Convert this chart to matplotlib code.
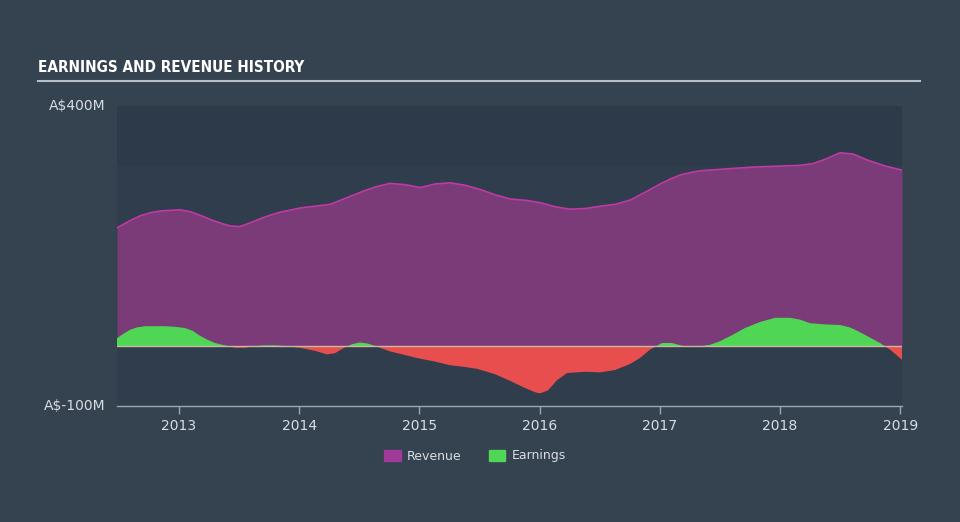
import matplotlib
matplotlib.use("Agg")
import matplotlib.pyplot as plt
from matplotlib.patches import Patch
import numpy as np

# pixel x positions, converted to decimal years below
rev_x = [117, 130, 140, 150, 160, 170, 180, 190, 200, 210, 220, 230, 240, 250, 260, 270, 280,
         300, 330, 360, 375, 390, 405, 420, 435, 450, 465, 480, 495, 510, 525, 540, 555, 570,
         585, 600, 615, 630, 645, 660, 670, 680, 690, 700, 750, 800, 813, 825, 840, 853, 867,
         885, 902]
revenue = [197, 209, 217, 222, 225, 226, 227, 224, 218, 211, 205, 200, 199, 205, 212, 218, 223,
           230, 236, 256, 265, 271, 269, 264, 270, 272, 268, 261, 252, 245, 243, 239, 232, 228,
           229, 233, 236, 243, 256, 270, 278, 285, 289, 292, 298, 301, 304, 311, 322, 320, 310,
           300, 293]

earn_x = [117, 124, 130, 137, 145, 155, 165, 175, 185, 193, 200, 208, 215, 225, 235, 245, 255,
          265, 275, 285, 300, 315, 327, 335, 343, 352, 360, 368, 377, 390, 405, 417, 435, 450,
          465, 477, 495, 510, 525, 535, 540, 548, 557, 567, 585, 600, 615, 630, 640, 650, 662,
          672, 683, 695, 710, 720, 732, 745, 760, 775, 790, 800, 810, 825, 840, 850, 860, 870,
          880, 890, 902]
earnings = [13, 21, 27, 31, 33, 33, 33, 32, 30, 25, 17, 10, 5, 1, -3, -3, 0,
            1, 1, 0, -3, -8, -14, -12, -4, 3, 6, 4, -1, -9, -15, -20, -26, -32,
            -35, -38, -47, -58, -70, -77, -79, -74, -57, -45, -43, -44, -40, -30, -20, -6, 5,
            5, 0, -2, 2, 8, 18, 30, 40, 47, 47, 44, 38, 36, 35, 31, 23, 14,
            5, -6, -23]

year_ticks = [2013, 2014, 2015, 2016, 2017, 2018, 2019]
y_labels = {400: "A$400M", -100: "A$-100M"}


def to_year(px):
    return 2013 + (np.asarray(px, dtype=float) - 179) / 120.2


BG = "#35424f"
PLOT_BG = "#303d4c"
BAND = "#2d3a49"
REV_FILL = "#7b3a78"
REV_LINE = "#c03aa6"
GREEN = "#4fd654"
RED = "#e84e4e"
TXT = "#d8dde3"

fig = plt.figure(figsize=(9.6, 5.22), dpi=100, facecolor=BG)
ax = fig.add_axes([117 / 960, 1 - 406 / 522, 785 / 960, 300 / 522])
ax.set_facecolor(PLOT_BG)

rx = to_year(rev_x)
ex = to_year(earn_x)
xmin, xmax = to_year(117), to_year(902)

# dense grid only so positive / negative earnings split cleanly at zero
xs = np.linspace(xmin, xmax, 1200)
rv = np.interp(xs, rx, revenue)
ev = np.interp(xs, ex, earnings)

ax.axhspan(300, 400, color=BAND, zorder=0, lw=0)
ax.fill_between(xs, 0, rv, color=REV_FILL, lw=0, zorder=1)
ax.plot(xs, rv, color=REV_LINE, lw=1.2, zorder=2)
ax.fill_between(xs, 0, ev, where=ev >= 0, interpolate=True, color=GREEN, lw=0, zorder=3)
ax.fill_between(xs, 0, ev, where=ev <= 0, interpolate=True, color=RED, lw=0, zorder=3)
ax.axhline(0, color="#c9b9a0", lw=1, zorder=4)

ax.set_xlim(xmin, xmax)
ax.set_ylim(-100, 400)
for s in ["top", "right", "left"]:
    ax.spines[s].set_visible(False)
ax.spines["bottom"].set_color("#9aa6b4")
ax.spines["bottom"].set_linewidth(1)
ax.set_yticks([])
ax.set_xticks(year_ticks)
ax.set_xticklabels([str(y) for y in year_ticks])
ax.tick_params(axis="x", colors="#9aa6b4", labelcolor=TXT, length=6, width=1, labelsize=10, pad=3)

for val, lab in y_labels.items():
    ax.text(-0.015, val, lab, transform=ax.get_yaxis_transform(), ha="right", va="center",
            color=TXT, fontsize=10)

fig.text(38 / 960, 1 - 68 / 522, "EARNINGS AND REVENUE HISTORY", color="white",
         fontsize=11, fontweight="bold", fontstretch="condensed",
         family=["DejaVu Sans"], va="center", ha="left")
fig.add_artist(plt.Line2D([38 / 960, 920 / 960], [1 - 81 / 522, 1 - 81 / 522],
                          color="#b8bec6", lw=1.5))

handles = [Patch(color="#a03a9a", label="Revenue"), Patch(color=GREEN, label="Earnings")]
leg = fig.legend(handles=handles, loc="center", bbox_to_anchor=(475 / 960, 1 - 456 / 522),
                 ncol=2, frameon=False, fontsize=9, handlelength=1.3, handleheight=1.0,
                 columnspacing=2.2, handletextpad=0.5)
for t in leg.get_texts():
    t.set_color(TXT)

fig.savefig("out.png", dpi=100, facecolor=BG)
